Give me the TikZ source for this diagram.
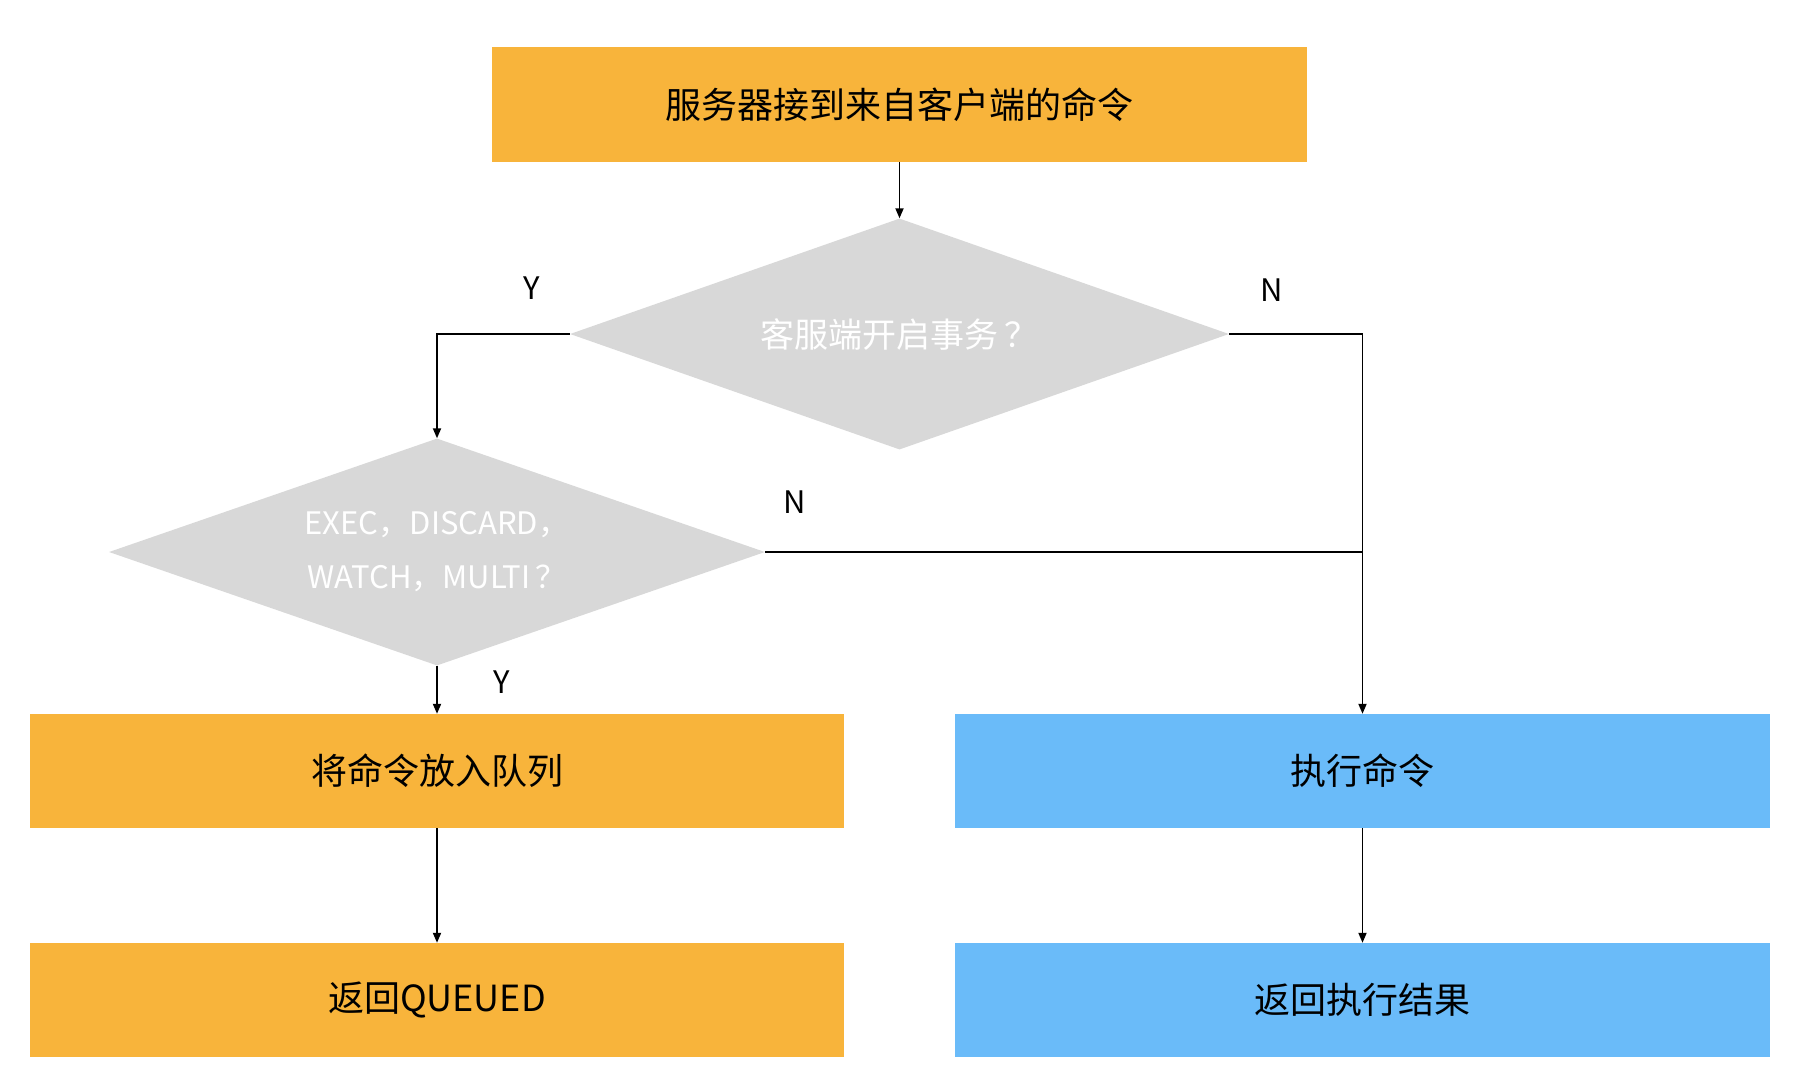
\documentclass[tikz,border=0pt]{standalone}
\usepackage{fontspec}
\setmainfont{Noto Sans CJK SC}
\usetikzlibrary{shapes.geometric,arrows.meta}
\definecolor{boxorange}{HTML}{F8B43B}
\definecolor{boxblue}{HTML}{6ABBF9}
\definecolor{diagray}{HTML}{D8D8D8}
\tikzset{
  obox/.style={rectangle, fill=boxorange, draw=none, minimum width=814pt, minimum height=114pt, inner sep=0pt, font=\fontsize{36}{42}\selectfont},
  bbox/.style={rectangle, fill=boxblue, draw=none, minimum width=815pt, minimum height=114pt, inner sep=0pt, font=\fontsize{36}{42}\selectfont},
  dbox/.style={diamond, aspect=2.85, fill=diagray, draw=none, inner sep=0pt, text=white, align=center, font=\fontsize{34}{52}\selectfont},
  lbl/.style={font=\fontsize{31}{36}\selectfont, inner sep=0pt},
  conn/.style={line width=1.8pt, draw=black},
  arr/.style={conn, -{Triangle[length=10pt,width=8pt]}},
}
\begin{document}
\begin{tikzpicture}[x=1pt,y=-1pt]
\useasboundingbox (0,0) rectangle (1796,1080);
\node[obox, minimum width=815pt, minimum height=115pt] (top) at (899.5,104.5) {服务器接到来自客户端的命令};
\node[dbox, minimum width=659pt, minimum height=231pt] (d1) at (899.5,334) {客服端开启事务\,？};
\node[dbox, minimum width=656pt, minimum height=227pt, font=\fontsize{31}{54}\selectfont] (d2) at (437,552) {EXEC，DISCARD，\\WATCH，MULTI\,？};
\node[obox] (queue) at (437,771) {将命令放入队列};
\node[bbox] (exec) at (1362.5,771) {执行命令};
\node[obox] (queued) at (437,1000) {返回QUEUED};
\node[bbox] (result) at (1362.5,1000) {返回执行结果};
\coordinate (join) at (exec.north |- d2.east);
\draw[arr] (top.south) -- (d1.north);
\draw[arr] (d1.west) -| (d2.north);
\draw[arr] (d1.east) -| (exec.north);
\draw[conn] (d2.east) -- (join);
\draw[arr] (d2.south) -- (queue.north);
\draw[arr] (queue.south) -- (queued.north);
\draw[arr] (exec.south) -- (result.north);
\node[lbl] (y1) at (532,288) {Y};
\node[lbl] (n1) at (1272,290) {N};
\node[lbl] (n2) at (795,502) {N};
\node[lbl] (y2) at (502,682) {Y};
\end{tikzpicture}
\end{document}
